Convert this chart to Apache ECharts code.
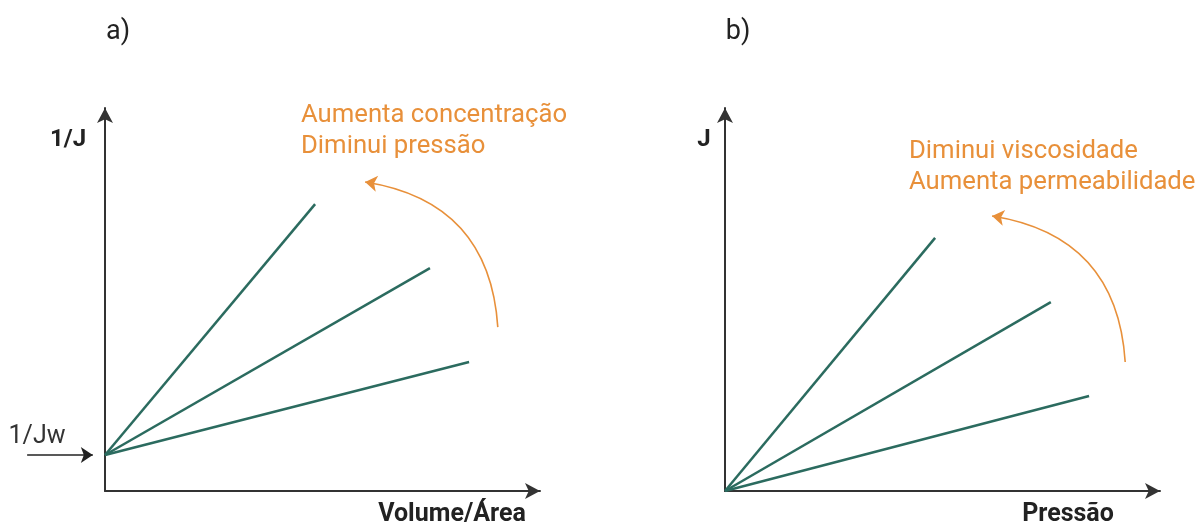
<!DOCTYPE html>
<html>
<head>
<meta charset="utf-8">
<script src="https://cdn.jsdelivr.net/npm/echarts@6/dist/echarts.min.js"></script>
<style>
html,body{margin:0;padding:0;background:#fff;}
#c{width:1199px;height:525px;}
</style>
</head>
<body>
<div id="c"></div>
<script>
// Panel labels and axis names
const panelLabels = ['a)', 'b)'];
const yNames = ['1/J', 'J'];
const xNames = ['Volume/Área', 'Pressão'];
const interceptLabel = '1/Jw';
const noteA = ['Aumenta concentração', 'Diminui pressão'];
const noteB = ['Diminui viscosidade', 'Aumenta permeabilidade'];

// Panel a: lines start at intercept (1/Jw), end points
const interceptA = 9.4;
const linesA_end = [[48.3, 74.9], [74.7, 58.2], [83.7, 33.7]];
// Panel b: lines from origin
const linesB_end = [[48.3, 66.1], [74.9, 49.3], [83.7, 24.8]];
// Annotation arrows [start, tip]
const arrowA = [[90.3, 42.8], [59.8, 80.7]];
const arrowB = [[92.0, 33.7], [61.4, 71.8]];
const jwArrow = [[-17.9, 9.4], [-2.8, 9.4]];

const green = '#2b6b5f';
const orange = '#e8903a';
const axisColor = '#333333';
const FONT = 'Roboto';

function axisX(idx) {
  return {
    type: 'value', gridIndex: idx, min: 0, max: 100,
    axisLine: {show: true, onZero: false, symbol: ['none', 'arrow'], symbolSize: [12, 15],
      lineStyle: {color: axisColor, width: 2}},
    axisTick: {show: false}, axisLabel: {show: false}, splitLine: {show: false}
  };
}
function axisY(idx) {
  return {
    type: 'value', gridIndex: idx, min: 0, max: 100,
    axisLine: {show: true, onZero: false, symbol: ['none', 'arrow'], symbolSize: [12, 15],
      lineStyle: {color: axisColor, width: 2}},
    axisTick: {show: false}, axisLabel: {show: false}, splitLine: {show: false}
  };
}

const series = [];
linesA_end.forEach((e) => {
  series.push({type: 'line', xAxisIndex: 0, yAxisIndex: 0, data: [[0, interceptA], e],
    symbol: 'none', lineStyle: {color: green, width: 2.5}, z: 3, silent: true});
});
linesB_end.forEach((e) => {
  series.push({type: 'line', xAxisIndex: 1, yAxisIndex: 1, data: [[0, 0], e],
    symbol: 'none', lineStyle: {color: green, width: 2.5}, z: 3, silent: true});
});
series.push({type: 'lines', coordinateSystem: 'cartesian2d', xAxisIndex: 0, yAxisIndex: 0, clip: false,
  symbol: ['none', 'arrow'], symbolSize: 12,
  lineStyle: {color: orange, width: 1.6, curveness: -0.4, opacity: 1},
  data: [{coords: arrowA}]});
series.push({type: 'lines', coordinateSystem: 'cartesian2d', xAxisIndex: 1, yAxisIndex: 1, clip: false,
  symbol: ['none', 'arrow'], symbolSize: 12,
  lineStyle: {color: orange, width: 1.6, curveness: -0.4, opacity: 1},
  data: [{coords: arrowB}]});
series.push({type: 'lines', coordinateSystem: 'cartesian2d', xAxisIndex: 0, yAxisIndex: 0, clip: false,
  symbol: ['none', 'arrow'], symbolSize: 12,
  lineStyle: {color: '#222', width: 1.6, curveness: 0, opacity: 1},
  data: [{coords: jwArrow}]});

function txt(x, y, s, opts) {
  return {type: 'text', x: x, y: y, style: Object.assign({text: s, fontFamily: FONT, fontSize: 25,
    fill: '#222', textVerticalAlign: 'middle'}, opts || {})};
}

const graphic = [
  txt(118, 32, panelLabels[0], {textAlign: 'center', fontSize: 27}),
  txt(738, 32, panelLabels[1], {textAlign: 'center', fontSize: 27}),
  txt(68, 140, yNames[0], {textAlign: 'center', fontWeight: 'bold', fontSize: 24}),
  txt(704, 140, yNames[1], {textAlign: 'center', fontWeight: 'bold', fontSize: 24}),
  txt(452, 515, xNames[0], {textAlign: 'center', fontWeight: 'bold'}),
  txt(1068, 515, xNames[1], {textAlign: 'center', fontWeight: 'bold'}),
  txt(37, 437, interceptLabel, {textAlign: 'center', fill: '#333'}),
  txt(301, 116, noteA[0], {textAlign: 'left', fill: orange, fontSize: 25.7}),
  txt(301, 147, noteA[1], {textAlign: 'left', fill: orange, fontSize: 25.7}),
  txt(909, 152, noteB[0], {textAlign: 'left', fill: orange, fontSize: 25.7}),
  txt(909, 183, noteB[1], {textAlign: 'left', fill: orange, fontSize: 25.7})
];

const chart = echarts.init(document.getElementById('c'), null, {renderer: 'canvas'});
chart.setOption({
  animation: false,
  backgroundColor: '#ffffff',
  grid: [
    {left: 105, top: 108, width: 435, height: 383},
    {left: 725, top: 108, width: 435, height: 383}
  ],
  xAxis: [axisX(0), axisX(1)],
  yAxis: [axisY(0), axisY(1)],
  series: series,
  graphic: graphic
});
</script>
</body>
</html>
